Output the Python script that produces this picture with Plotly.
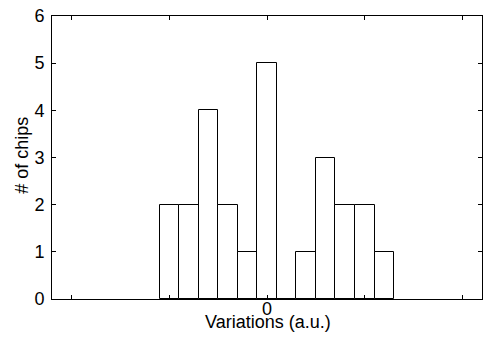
import plotly.graph_objects as go

variation = [-1.0, -0.8, -0.6, -0.4, -0.2, 0.0, 0.2, 0.4, 0.6, 0.8, 1.0, 1.2]
chips = [2, 2, 4, 2, 1, 5, 0, 1, 3, 2, 2, 1]
x_tickvals = [-2, -1, 0, 1, 2]
x_ticktext = ["", "", "0", "", ""]
y_tickvals = [0, 1, 2, 3, 4, 5, 6]

FONT = "Liberation Sans, Arial, sans-serif"
FS = 18

fig = go.Figure(go.Bar(
    x=variation, y=chips, width=0.2,
    marker=dict(color="white", line=dict(color="black", width=1)),
))

fig.update_layout(
    width=489, height=338,
    margin=dict(l=52, r=7, t=16, b=39),
    paper_bgcolor="white", plot_bgcolor="white",
    font=dict(family=FONT, size=FS, color="black"),
    bargap=0, showlegend=False,
    annotations=[
        dict(text="Variations (a.u.)", xref="paper", yref="paper",
             x=0.502, y=-0.08, xanchor="center", yanchor="middle",
             showarrow=False, font=dict(size=FS)),
        dict(text="# of chips", xref="paper", yref="paper",
             x=-0.07, y=0.509, xanchor="center", yanchor="middle",
             textangle=-90, showarrow=False, font=dict(size=FS)),
    ],
)
fig.update_xaxes(
    range=[-2.2, 2.2], tickvals=x_tickvals, ticktext=x_ticktext,
    ticks="inside", ticklen=4, tickcolor="black", mirror="ticks",
    showline=True, linecolor="black", linewidth=1, showgrid=False, zeroline=False,
    tickfont=dict(size=FS), ticklabelstandoff=-7, automargin=False,
    ticklabeloverflow="allow",
)
fig.update_yaxes(
    range=[0, 6], tickvals=y_tickvals,
    ticks="inside", ticklen=4, tickcolor="black", mirror="ticks",
    showline=True, linecolor="black", linewidth=1, showgrid=False, zeroline=False,
    tickfont=dict(size=FS), ticklabelstandoff=3, automargin=False,
    ticklabeloverflow="allow",
)

fig.write_html("out.html", config={"displayModeBar": False},
               post_script="document.body.style.margin='0';")
